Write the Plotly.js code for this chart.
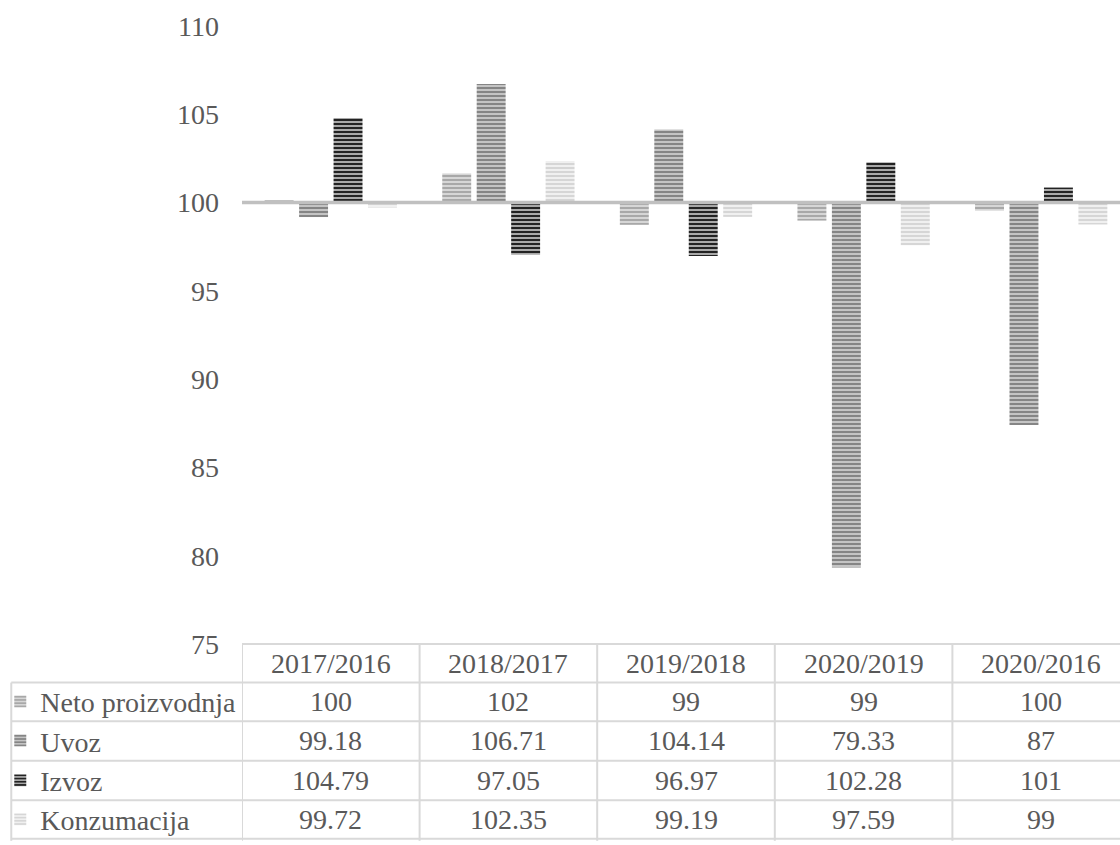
<!DOCTYPE html>
<html>
<head>
<meta charset="utf-8">
<script src="https://cdn.plot.ly/plotly-3.0.1.min.js"></script>
<style>
html,body{margin:0;padding:0;overflow:hidden;background:#fff;}
#chart{width:1130px;height:845px;}
</style>
</head>
<body>
<div id="chart"></div>
<script>
// ---- data ----
const categories = ['2017/2016', '2018/2017', '2019/2018', '2020/2019', '2020/2016'];
const seriesNames = ['Neto proizvodnja', 'Uvoz', 'Izvoz', 'Konzumacija'];
const netoProizvodnja = [100.13, 101.65, 98.74, 98.98, 99.54];
const uvoz = [99.18, 106.71, 104.14, 79.33, 87.4];
const izvoz = [104.79, 97.05, 96.97, 102.28, 100.85];
const konzumacija = [99.72, 102.35, 99.19, 97.59, 98.76];
const baseValue = 100;
const yTickValues = [75, 80, 85, 90, 95, 100, 105, 110];

// ---- styles ----
const FONT = 'Liberation Serif';
const TXT = '#595959';
const FS = 28;
const GRID = '#d9d9d9';
const styles = [
  {bg: '#d6d6d6', fg: '#a8a8a8'},
  {bg: '#c4c4c4', fg: '#858585'},
  {bg: '#a8a8a8', fg: '#222222'},
  {bg: '#f0f0f0', fg: '#d6d6d6'}
];
const allSeries = [netoProizvodnja, uvoz, izvoz, konzumacija];

// layout geometry (pixels)
const W = 1130, H = 845;
const mL = 241, mR = 0, mT = 26, mB = 194;
const pw = W - mL - mR, ph = H - mT - mB;
const px2x = p => (p - mL) / pw;
const py2y = p => (H - mB - p) / ph;

const rowTops = [651, 690, 729, 769, 809, 848];
const labelLeft = 10;

const traces = allSeries.map((vals, i) => ({
  type: 'bar',
  name: seriesNames[i],
  x: categories,
  y: vals.map(v => v - baseValue),
  base: baseValue,
  marker: {
    color: styles[i].bg,
    line: {width: 0},
    pattern: {shape: '-', fgcolor: styles[i].fg, bgcolor: styles[i].bg, size: 4, solidity: 0.5, fillmode: 'replace'}
  },
  legend: i === 0 ? 'legend' : 'legend' + (i + 1),
  hovertemplate: '%{x}: %{customdata}<extra>' + seriesNames[i] + '</extra>',
  customdata: vals
}));

const fmt = (v, row, col) => (row === 0 || col === categories.length - 1) ? String(Math.round(v)) : v.toFixed(2);

const annotations = [];
categories.forEach((c, j) => {
  annotations.push({
    xref: 'x', yref: 'paper', x: j, y: py2y((rowTops[0] + rowTops[1]) / 2),
    text: c, showarrow: false, xanchor: 'center', yanchor: 'middle',
    font: {family: FONT, size: FS, color: TXT}
  });
  allSeries.forEach((vals, i) => {
    annotations.push({
      xref: 'x', yref: 'paper', x: j, y: py2y((rowTops[i + 1] + rowTops[i + 2]) / 2),
      text: fmt(vals[j], i, j), showarrow: false, xanchor: 'center', yanchor: 'middle',
      font: {family: FONT, size: FS, color: TXT}
    });
  });
});

const shapes = [];
// baseline at 100
shapes.push({type: 'line', xref: 'paper', yref: 'y', x0: 0, x1: 1, y0: baseValue, y1: baseValue,
  line: {color: '#c0c0c0', width: 3.5}});
// table horizontal lines
shapes.push({type: 'line', xref: 'paper', yref: 'paper', x0: 0, x1: 1, y0: py2y(rowTops[0]), y1: py2y(rowTops[0]),
  line: {color: GRID, width: 2}});
for (let r = 1; r < rowTops.length; r++) {
  shapes.push({type: 'line', xref: 'paper', yref: 'paper', x0: px2x(labelLeft), x1: 1, y0: py2y(rowTops[r]), y1: py2y(rowTops[r]),
    line: {color: GRID, width: 2}});
}
// vertical lines
shapes.push({type: 'line', xref: 'paper', yref: 'paper', x0: px2x(labelLeft), x1: px2x(labelLeft), y0: py2y(rowTops[1]), y1: py2y(H + 5),
  line: {color: GRID, width: 2}});
for (let j = 0; j <= categories.length; j++) {
  shapes.push({type: 'line', xref: 'x', yref: 'paper', x0: j - 0.5, x1: j - 0.5, y0: py2y(rowTops[0]), y1: py2y(H + 5),
    line: {color: GRID, width: 2}});
}

const layout = {
  width: W, height: H,
  margin: {l: mL, r: mR, t: mT, b: mB, pad: 0},
  paper_bgcolor: '#fff', plot_bgcolor: '#fff',
  barmode: 'group', bargap: 0.224, bargroupgap: 0.16,
  xaxis: {type: 'category', range: [-0.5, categories.length - 0.5], showticklabels: false, showgrid: false,
    zeroline: false, showline: false, ticks: '', fixedrange: true},
  yaxis: {range: [75, 110], tickvals: yTickValues, showgrid: false, zeroline: false, showline: false, ticks: '',
    ticklabelstandoff: 22, tickfont: {family: FONT, size: FS, color: TXT}, fixedrange: true},
  annotations: annotations,
  shapes: shapes,
  showlegend: true,
  font: {family: FONT, color: TXT}
};
seriesNames.forEach((n, i) => {
  const key = i === 0 ? 'legend' : 'legend' + (i + 1);
  layout[key] = {
    x: px2x(-1), xanchor: 'left', xref: 'paper',
    y: py2y((rowTops[i + 1] + rowTops[i + 2]) / 2), yanchor: 'middle', yref: 'paper',
    bgcolor: 'rgba(0,0,0,0)', borderwidth: 0,
    font: {family: FONT, size: FS, color: TXT},
    itemwidth: 30, itemclick: false, itemdoubleclick: false
  };
});

Plotly.newPlot('chart', traces, layout, {displayModeBar: false, responsive: false});
</script>
</body>
</html>
